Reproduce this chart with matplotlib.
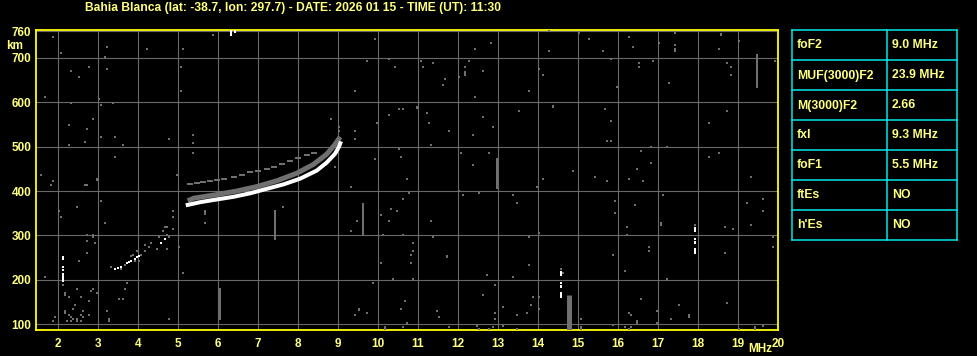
import matplotlib
matplotlib.use('Agg')
import matplotlib.pyplot as plt

# ionogram header
title = 'Bahia Blanca (lat: -38.7, lon: 297.7) - DATE: 2026 01 15 - TIME (UT): 11:30'
freq_ticks = list(range(2, 21))
height_ticks = [100, 200, 300, 400, 500, 600, 700, 760]

# ordinary trace (white)
o_mhz = [5.20, 5.31, 5.56, 5.97, 6.39, 6.81, 7.22, 7.64, 8.06, 8.47, 8.72, 8.93, 9.03, 9.08]
o_km = [368, 370, 375, 381, 387, 395, 405, 415, 428, 446, 464, 484, 500, 512]

# extraordinary trace (gray)
x_mhz = [5.25, 5.40, 5.97, 6.47, 6.97, 7.47, 7.97, 8.39, 8.72, 8.93, 9.06]
x_km = [378, 384, 392, 400, 410, 423, 440, 460, 483, 505, 522]

# sparse upper echo dashes
up_mhz = [5.31, 5.47, 5.62, 5.80, 5.97, 6.15, 6.40, 6.60, 6.81, 7.00, 7.22, 7.40, 7.60, 7.81, 8.00, 8.22, 8.40]
up_km = [415, 418, 421, 422, 424, 427, 431, 436, 442, 446, 450, 454, 461, 468, 474, 481, 486]

# low echo near 4 MHz
low_white_mhz = [3.43, 3.50, 3.58, 3.73, 3.78, 3.83, 3.93, 3.98, 4.03, 4.58, 4.68]
low_white_km = [225, 226, 229, 238, 240, 243, 247, 252, 253, 283, 292]
low_gray_mhz = [3.33, 3.58, 3.68, 3.83, 3.88, 3.93, 3.98, 4.03, 4.08, 4.18, 4.18, 4.28, 4.33,
                4.48, 4.53, 4.63, 4.68, 4.73, 4.73, 4.78]
low_gray_km = [229, 225, 234, 253, 256, 243, 265, 243, 256, 279, 265, 274, 283,
               270, 297, 310, 319, 301, 270, 297]

# scattered noise
noise_mhz = [1.87, 2.08, 2.33, 2.78, 2.52, 1.68, 3.23, 3.18, 3.23, 3.02, 3.07, 2.33, 3.37, 2.88,
             2.28, 2.73, 2.68, 2.28, 3.07, 3.42, 3.63, 3.42, 1.58, 2.97, 4.23, 5.13, 5.07, 5.07,
             4.78, 5.38, 5.38, 5.38, 4.97, 5.88,
             1.83, 1.88, 2.68, 2.73, 2.97, 2.03, 2.08, 2.48, 3.07, 3.18, 2.73, 2.88, 2.88, 2.73,
             2.93, 2.73, 2.53, 1.68, 2.13, 2.48, 2.18, 2.18, 2.28, 2.58, 2.88, 2.83, 2.98, 2.78,
             2.43, 2.38, 2.18, 2.18, 2.28, 2.33, 2.38, 2.48, 2.58, 2.63, 2.63, 2.78, 1.93, 1.88,
             2.23, 2.33, 2.48, 2.58, 3.23, 3.28, 3.28, 3.73, 3.68, 3.53, 3.63, 4.78, 5.13, 5.03,
             4.88, 4.88, 4.88, 4.73, 5.68, 7.63,
             9.93, 9.73, 10.28, 10.43, 11.08, 11.13, 11.38, 12.43, 12.83, 12.28, 12.18, 12.03,
             12.63, 11.68, 11.63, 9.43, 12.43, 13.78, 10.53, 10.63, 10.28, 11.23, 9.98, 11.28,
             13.53, 12.63, 12.88, 11.78, 12.38, 11.33, 10.53, 10.58, 9.93, 12.08, 12.78, 12.38,
             10.73, 8.83, 9.03, 9.03, 9.43, 9.43, 8.93,
             9.33, 10.73, 10.78, 10.63, 10.33, 10.48, 10.08, 10.28, 9.48, 9.33, 10.13, 10.63,
             11.33, 11.38, 12.03, 12.13, 12.53, 13.38, 13.48, 13.78, 10.88, 10.88, 10.83, 10.83,
             10.08, 13.78, 12.73, 13.38, 10.38, 10.88, 9.88, 12.93, 12.63, 13.88, 13.83, 13.13,
             10.68, 10.58, 9.73, 9.43, 11.48, 11.53, 12.93, 12.93, 13.48, 13.73, 10.73, 10.63,
             11.78, 12.53, 12.78, 12.88, 13.13, 13.48,
             14.28, 15.03, 15.28, 14.28, 15.63, 16.28, 16.38, 17.03, 17.43, 17.43, 18.53, 19.03,
             15.83, 16.53, 16.53, 16.88, 14.03, 14.13, 15.98, 17.28, 18.73, 18.83, 18.83, 19.93,
             15.68, 15.83, 18.73, 18.28, 15.73, 15.83, 16.58, 16.83, 17.23, 16.83, 16.48, 14.88,
             15.43, 14.13, 16.28, 18.28, 18.53, 19.33,
             14.13, 15.73, 16.28, 16.63, 13.98, 15.93, 16.43, 17.13, 15.93, 16.23, 16.23, 17.93,
             18.68, 18.88, 19.33, 19.23, 19.63, 19.63, 19.88, 19.88, 18.68, 16.78, 16.78, 15.88,
             16.18, 17.23, 14.58, 14.63, 14.03, 14.03, 14.03, 14.83, 16.58, 17.53, 18.73, 16.28,
             16.33, 16.98, 16.98, 17.33, 15.08, 15.88, 16.18, 16.33, 16.28, 19.03, 19.63]
noise_km = [748, 711, 670, 680, 657, 612, 725, 702, 675, 607, 594, 598, 598, 562,
            549, 540, 511, 504, 522, 522, 504, 477, 436, 428, 720, 720, 680, 626,
            517, 526, 508, 486, 436, 752,
            414, 423, 414, 414, 426, 355, 342, 364, 378, 328, 301, 301, 297, 288,
            283, 261, 243, 207, 189, 180, 171, 166, 162, 162, 180, 175, 171, 153,
            144, 135, 130, 126, 121, 117, 112, 112, 121, 130, 117, 121, 117, 108,
            108, 108, 108, 108, 130, 112, 108, 193, 180, 157, 157, 112, 216, 274,
            355, 342, 315, 319, 328, 364,
            743, 693, 698, 680, 693, 680, 689, 720, 734, 693, 680, 657,
            671, 653, 639, 626, 612, 626, 585, 585, 571, 576, 553, 553,
            580, 567, 544, 535, 526, 504, 495, 477, 472, 486, 486, 459,
            428, 562, 544, 535, 535, 517, 454,
            409, 427, 396, 382, 360, 355, 346, 333, 333, 310, 301, 301,
            333, 297, 400, 391, 396, 391, 373, 297, 283, 265, 256, 238,
            238, 234, 211, 207, 202, 202, 193, 189, 166, 162, 144, 139,
            153, 135, 126, 121, 130, 117, 126, 112, 121, 126, 103, 94,
            94, 90, 90, 94, 97, 90,
            761, 756, 743, 716, 716, 747, 725, 734, 756, 729, 720, 738,
            698, 689, 680, 693, 675, 662, 635, 644, 689, 680, 662, 693,
            585, 558, 580, 553, 513, 513, 490, 499, 499, 463, 450, 445,
            432, 428, 428, 477, 486, 432,
            427, 423, 427, 423, 409, 378, 369, 391, 351, 319, 301, 324,
            319, 315, 324, 373, 382, 355, 297, 274, 261, 274, 265, 256,
            220, 202, 225, 215, 306, 162, 135, 153, 157, 144, 148, 126,
            121, 130, 103, 112, 112, 99, 94, 94, 90, 90, 97]

# gray vertical streaks
streak_mhz = [6.06, 7.43, 5.68, 9.63, 12.98, 19.48, 18.58, 17.43, 12.18, 11.73, 10.98, 14.38, 9.53,
              17.08, 16.48, 17.78, 19.43, 15.08, 10.18, 12.48]
streak_lo = [110, 290, 345, 300, 405, 632, 749, 713, 659, 249, 584, 587, 129, 322, 101, 114, 88, 88, 88, 94]
streak_hi = [182, 357, 357, 372, 474, 709, 757, 722, 670, 257, 592, 595, 137, 330, 109, 122, 96, 96, 96, 101]

# wide gray bar near 14.8 MHz
bar_mhz = [14.78]
bar_lo = [88]
bar_hi = [165]

# white vertical dashes
white_mhz = [2.13, 2.13, 2.13, 2.13, 14.58, 14.58, 14.58, 14.58, 17.93, 17.93, 17.93, 17.93, 6.33, 6.44]
white_lo = [245, 227, 221, 196, 209, 190, 181, 159, 308, 289, 281, 258, 750, 757]
white_hi = [254, 231, 225, 215, 220, 196, 188, 173, 319, 295, 287, 272, 762, 762]

# parameter table
param_names = ['foF2', 'MUF(3000)F2', 'M(3000)F2', 'fxI', 'foF1', 'ftEs', "h'Es"]
param_values = ['9.0 MHz', '23.9 MHz', '2.66', '9.3 MHz', '5.5 MHz', 'NO', 'NO']

W, H = 978, 356
txt_color = '#ffff80'
gray = '#707070'
font = 'Liberation Sans'

fig = plt.figure(figsize=(W / 100, H / 100), dpi=100, facecolor='black')
ax = fig.add_axes([35.5 / W, 1 - 330 / H, (778 - 35.5) / W, (330 - 29.5) / H])
ax.set_facecolor('black')
ax.set_xlim(1.445, 20.0)
ax.set_ylim(87, 764)

ax.set_xticks(freq_ticks)
ax.set_yticks(height_ticks)
ax.grid(True, color='#6a6a6a', linewidth=0.8)
ax.set_axisbelow(True)
ax.tick_params(length=0, colors=txt_color, labelsize=8.5)
ax.tick_params(axis='x', pad=5.5)
ax.tick_params(axis='y', pad=3)
for lab in ax.get_xticklabels() + ax.get_yticklabels():
    lab.set_fontweight('bold')
    lab.set_fontfamily(font)
for sp in ax.spines.values():
    sp.set_color('#ffff00')
    sp.set_linewidth(1.3)

px = 0.72  # one pixel in points
ax.scatter(noise_mhz, noise_km, s=(2.4 * px) ** 2, marker='s', color=gray, linewidths=0, zorder=3)
ax.vlines(streak_mhz, streak_lo, streak_hi, color=gray, linewidth=2 * px, zorder=3)
ax.vlines(bar_mhz, bar_lo, bar_hi, color=gray, linewidth=5 * px, zorder=3)

# traces
ax.plot(up_mhz, up_km, linestyle='none', marker='_', markersize=6 * px,
        markeredgewidth=2 * px, color=gray, zorder=3)
ax.plot(x_mhz, x_km, color=gray, linewidth=5 * px, solid_capstyle='butt', zorder=4)
ax.plot(o_mhz, o_km, color='white', linewidth=4 * px, solid_capstyle='butt', zorder=5)
ax.scatter(low_gray_mhz, low_gray_km, s=(2.5 * px) ** 2, marker='s', color=gray, linewidths=0, zorder=4)
ax.scatter(low_white_mhz, low_white_km, s=(2.5 * px) ** 2, marker='s', color='white', linewidths=0, zorder=5)
ax.vlines(white_mhz, white_lo, white_hi, color='white', linewidth=2 * px, zorder=5)

# labels
fig.text(85 / W, 1 - 7.5 / H, title, color=txt_color, fontsize=8.7, fontweight='bold',
         family=font, ha='left', va='center')
fig.text(6 / W, 1 - 46 / H, 'km', color=txt_color, fontsize=8.5, fontweight='bold',
         family=font, ha='left', va='center')
fig.text(748 / W, 1 - 348.5 / H, 'MHz', color=txt_color, fontsize=8.5, fontweight='bold',
         family=font, ha='left', va='center')

# table on the right, in pixel units
tx = fig.add_axes([792 / W, 1 - 240 / H, (957 - 792) / W, (240 - 30) / H])
tx.set_xlim(0, 165)
tx.set_ylim(210, 0)
tx.axis('off')
cyan = '#00e8e8'
for i in range(len(param_names) + 1):
    tx.plot([0, 165], [i * 30, i * 30], color=cyan, linewidth=1.1, clip_on=False)
for xv in [0, 95, 165]:
    tx.plot([xv, xv], [0, 210], color=cyan, linewidth=1.1, clip_on=False)
for i, (name, val) in enumerate(zip(param_names, param_values)):
    tx.text(5, i * 30 + 15.5, name, color=txt_color, fontsize=8.8, fontweight='bold',
            family=font, ha='left', va='center')
    tx.text(100, i * 30 + 15.5, val, color=txt_color, fontsize=8.8, fontweight='bold',
            family=font, ha='left', va='center')

fig.savefig('out.png', dpi=100, facecolor='black')
